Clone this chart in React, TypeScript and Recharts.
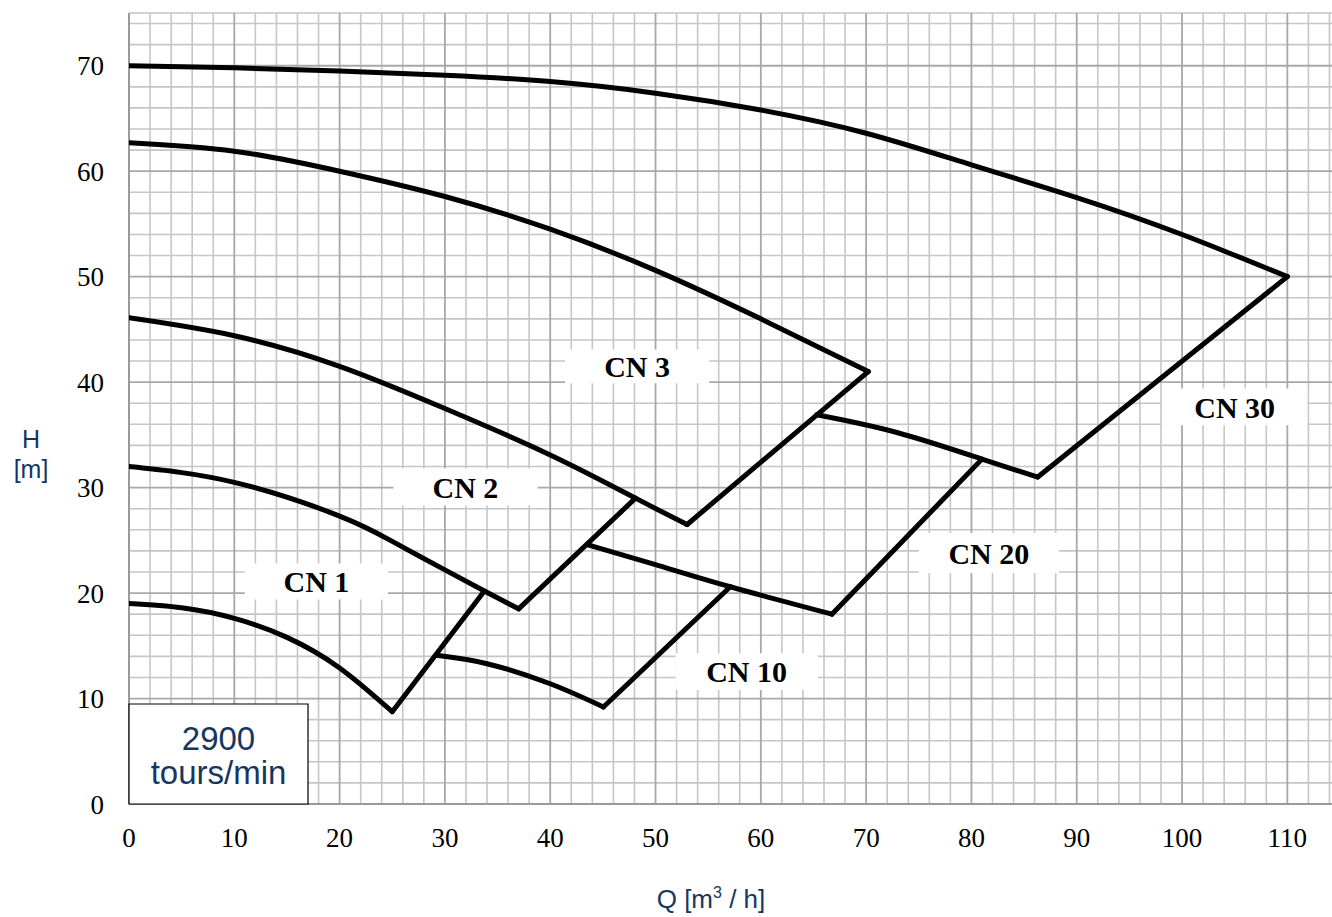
import React from 'react';
import { LineChart, Line, XAxis, YAxis, ReferenceLine, ReferenceArea } from 'recharts';

// Axis ticks
const xTicks = [0, 10, 20, 30, 40, 50, 60, 70, 80, 90, 100, 110];
const yTicks = [0, 10, 20, 30, 40, 50, 60, 70];

// Grid (minor every 2, major every 10)
const gridX = [
  2, 4, 6, 8, 12, 14, 16, 18, 22, 24, 26, 28, 32, 34, 36, 38, 42, 44, 46, 48, 52, 54, 56, 58,
  62, 64, 66, 68, 72, 74, 76, 78, 82, 84, 86, 88, 92, 94, 96, 98, 102, 104, 106, 108, 112, 114,
];
const gridY = [
  2, 4, 6, 8, 12, 14, 16, 18, 22, 24, 26, 28, 32, 34, 36, 38, 42, 44, 46, 48, 52, 54, 56, 58,
  62, 64, 66, 68, 72, 74, 75,
];
const majorX = [10, 20, 30, 40, 50, 60, 70, 80, 90, 100, 110];
const majorY = [10, 20, 30, 40, 50, 60, 70];

// Pump curves (Q [m3/h], H [m])
const cn30Top = [
  { q: 0, h: 70.0 }, { q: 10, h: 69.8 }, { q: 20, h: 69.5 }, { q: 30, h: 69.1 },
  { q: 40, h: 68.5 }, { q: 50, h: 67.4 }, { q: 60, h: 65.8 }, { q: 70, h: 63.6 },
  { q: 80, h: 60.6 }, { q: 90, h: 57.5 }, { q: 100, h: 54.0 }, { q: 110, h: 50.0 },
];
const cn3Top = [
  { q: 0, h: 62.7 }, { q: 10, h: 61.9 }, { q: 20, h: 60.0 }, { q: 30, h: 57.6 },
  { q: 40, h: 54.5 }, { q: 50, h: 50.6 }, { q: 60, h: 46.0 }, { q: 70.2, h: 41.0 },
];
const cn2Top = [
  { q: 0, h: 46.1 }, { q: 10, h: 44.4 }, { q: 20, h: 41.5 },
  { q: 30, h: 37.5 }, { q: 40, h: 33.1 }, { q: 48.1, h: 29.0 }, { q: 53, h: 26.5 },
];
const cn1Top = [
  { q: 0, h: 32.0 }, { q: 10, h: 30.5 }, { q: 20, h: 27.3 },
  { q: 25, h: 24.9 }, { q: 30, h: 22.2 }, { q: 33.75, h: 20.2 }, { q: 37, h: 18.5 },
];
const cn1Bottom = [
  { q: 0, h: 19.0 }, { q: 5, h: 18.6 }, { q: 10, h: 17.6 }, { q: 15, h: 15.8 },
  { q: 20, h: 12.9 }, { q: 25, h: 8.75 },
];
const cn10Bottom = [
  { q: 29.2, h: 14.1 }, { q: 34, h: 13.3 }, { q: 40, h: 11.4 }, { q: 45.05, h: 9.2 },
];
const cn10Top = [
  { q: 43.5, h: 24.6 }, { q: 50, h: 22.7 }, { q: 57.1, h: 20.6 }, { q: 66.75, h: 18.0 },
];
const cn20Top = [
  { q: 65.3, h: 36.9 }, { q: 73, h: 35.2 }, { q: 81, h: 32.7 }, { q: 86.3, h: 31.0 },
];

// Straight end-of-range lines
const cn1End = [{ q: 25, h: 8.75 }, { q: 33.75, h: 20.2 }];
const cn2End = [{ q: 37, h: 18.5 }, { q: 48.1, h: 29.0 }];
const cn3End = [{ q: 53, h: 26.5 }, { q: 70.2, h: 41.0 }];
const cn10End = [{ q: 45.05, h: 9.2 }, { q: 57.1, h: 20.6 }];
const cn20End = [{ q: 66.75, h: 18.0 }, { q: 81, h: 32.7 }];
const cn30End = [{ q: 86.3, h: 31.0 }, { q: 110, h: 50.0 }];

const curves = [cn30Top, cn3Top, cn2Top, cn1Top, cn1Bottom, cn10Bottom, cn10Top, cn20Top];
const ends = [cn1End, cn2End, cn3End, cn10End, cn20End, cn30End];

// Range labels
const rangeNames = ['CN 1', 'CN 2', 'CN 3', 'CN 10', 'CN 20', 'CN 30'];
const rangeQ1 = [11.0, 25.1, 41.4, 51.9, 75.0, 98.1];
const rangeQ2 = [24.6, 38.8, 55.1, 65.4, 88.3, 111.9];
const rangeH1 = [19.4, 28.3, 39.9, 10.8, 21.9, 35.9];
const rangeH2 = [22.8, 31.8, 43.1, 14.3, 25.7, 39.4];

const speedLines = ['2900', 'tours/min'];

const NAVY = '#17365f';
const serif = '"Liberation Serif", "Times New Roman", serif';
const sans = '"Liberation Sans", Arial, sans-serif';

const SpeedBox = (props: any) => {
  const vb = props.viewBox || {};
  const cx = vb.x + vb.width / 2;
  return (
    <text x={cx} y={vb.y} textAnchor="middle" fill={NAVY} fontFamily={sans} fontSize={33}>
      <tspan x={cx} dy={46}>{speedLines[0]}</tspan>
      <tspan x={cx} dy={34}>{speedLines[1]}</tspan>
    </text>
  );
};

export default function App() {
  return (
    <div style={{ position: 'absolute', left: 0, top: 0, width: 1332, height: 917, overflow: 'hidden', background: '#fff' }}>
      <LineChart width={1340} height={917} margin={{ top: 13, right: 0, bottom: 53, left: 0 }}>
        <XAxis
          dataKey="q"
          type="number"
          domain={[0, 115]}
          ticks={xTicks}
          allowDataOverflow
          axisLine={false}
          tickLine={false}
          tickSize={0}
          tickMargin={24}
          height={60}
          tick={{ fill: '#000', fontSize: 27, fontFamily: serif }}
          interval={0}
        />
        <YAxis
          dataKey="h"
          type="number"
          domain={[0, 75]}
          ticks={yTicks}
          allowDataOverflow
          axisLine={false}
          tickLine={false}
          tickSize={0}
          tickMargin={25}
          width={129}
          tick={{ fill: '#000', fontSize: 27, fontFamily: serif }}
          interval={0}
        />
        {gridX.map((v) => (
          <ReferenceLine key={'gx' + v} x={v} stroke="#c6c6c6" strokeWidth={1.6} ifOverflow="visible" zIndex={-100} />
        ))}
        {gridY.map((v) => (
          <ReferenceLine key={'gy' + v} y={v} stroke="#c6c6c6" strokeWidth={1.6} ifOverflow="visible" zIndex={-100} />
        ))}
        {majorX.map((v) => (
          <ReferenceLine key={'mx' + v} x={v} stroke="#a8a8a8" strokeWidth={1.8} ifOverflow="visible" zIndex={-90} />
        ))}
        {majorY.map((v) => (
          <ReferenceLine key={'my' + v} y={v} stroke="#a8a8a8" strokeWidth={1.8} ifOverflow="visible" zIndex={-90} />
        ))}
        <ReferenceLine x={0} stroke="#9a9a9a" strokeWidth={2} ifOverflow="visible" zIndex={-80} />
        <ReferenceLine y={0} stroke="#9a9a9a" strokeWidth={2} ifOverflow="visible" zIndex={-80} />
        {rangeNames.map((name, i) => (
          <ReferenceArea
            key={name}
            x1={rangeQ1[i]}
            x2={rangeQ2[i]}
            y1={rangeH1[i]}
            y2={rangeH2[i]}
            fill="#fff"
            fillOpacity={1}
            stroke="none"
            ifOverflow="visible"
            zIndex={450}
            label={{ value: name, position: 'center', fill: '#000', fontSize: 30, fontWeight: 'bold', fontFamily: serif }}
          />
        ))}
        <ReferenceArea
          x1={0}
          x2={17.0}
          y1={0}
          y2={9.48}
          fill="#fff"
          fillOpacity={1}
          stroke="#000"
          strokeWidth={1.2}
          ifOverflow="visible"
          zIndex={450}
          label={<SpeedBox />}
        />
        {curves.map((d, i) => (
          <Line
            key={'c' + i}
            data={d}
            dataKey="h"
            type="natural"
            stroke="#000"
            strokeWidth={5}
            strokeLinecap="round"
            dot={false}
            activeDot={false}
            isAnimationActive={false}
            zIndex={600}
          />
        ))}
        {ends.map((d, i) => (
          <Line
            key={'e' + i}
            data={d}
            dataKey="h"
            type="linear"
            stroke="#000"
            strokeWidth={5}
            strokeLinecap="round"
            dot={false}
            activeDot={false}
            isAnimationActive={false}
            zIndex={600}
          />
        ))}
      </LineChart>
      <svg width={1332} height={917} style={{ position: 'absolute', left: 0, top: 0, pointerEvents: 'none' }}>
        <text x={31} y={448} textAnchor="middle" fill={NAVY} fontFamily={sans} fontSize={25}>H</text>
        <text x={31} y={478} textAnchor="middle" fill={NAVY} fontFamily={sans} fontSize={25}>[m]</text>
        <text x={711} y={908} textAnchor="middle" fill={NAVY} fontFamily={sans} fontSize={26}>
          Q [m<tspan fontSize={16} dy={-10}>3</tspan><tspan dy={10}> / h]</tspan>
        </text>
      </svg>
    </div>
  );
}
